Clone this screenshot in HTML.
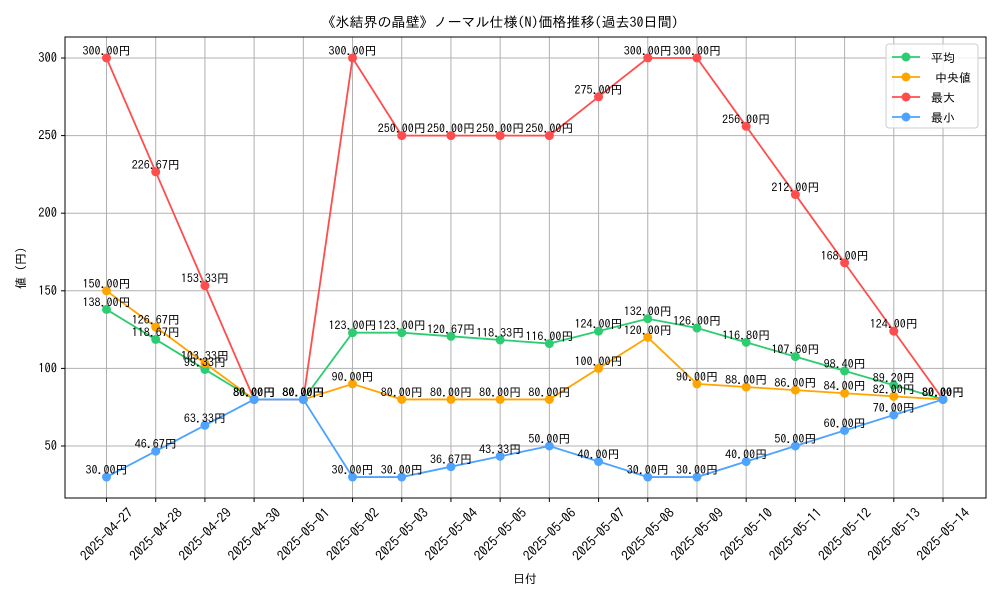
<!DOCTYPE html>
<html><head><meta charset="utf-8"><style>
body{margin:0;background:#fff}
svg{font-family:"IPAGothic","Liberation Sans","Noto Sans CJK JP",sans-serif}
</style></head><body>
<svg id="c" width="1000" height="600" viewBox="0 0 1000 600" xmlns="http://www.w3.org/2000/svg">
<rect width="1000" height="600" fill="#fff"/>
<text x="500" y="27" text-anchor="middle" font-size="14">《氷結界の晶壁》ノーマル仕様(N)価格推移(過去30日間)</text>
<g id="grid"></g><g id="series"></g><g id="labels"></g>
<rect x="65" y="37" width="921" height="461" fill="none" stroke="#000" stroke-width="1"/>
<text x="525" y="583" text-anchor="middle" font-size="12">日付</text>
<text transform="translate(25,268) rotate(-90)" text-anchor="middle" font-size="12">値 (円)</text>
<g id="legend">
<rect x="886" y="44" width="92" height="84" rx="3" fill="#fff" fill-opacity="0.8" stroke="#ccc"/>
</g>
</svg>
<script>
const dates=["2025-04-27","2025-04-28","2025-04-29","2025-04-30","2025-05-01","2025-05-02","2025-05-03","2025-05-04","2025-05-05","2025-05-06","2025-05-07","2025-05-08","2025-05-09","2025-05-10","2025-05-11","2025-05-12","2025-05-13","2025-05-14"];
const avgVals=[138,118.67,99.33,80,80,123,123,120.67,118.33,116,124,132,126,116.8,107.6,98.4,89.2,80];
const medVals=[150,126.67,103.33,80,80,90,80,80,80,80,100,120,90,88,86,84,82,80];
const maxVals=[300,226.67,153.33,80,80,300,250,250,250,250,275,300,300,256,212,168,124,80];
const minVals=[30,46.67,63.33,80,80,30,30,36.67,43.33,50,40,30,30,40,50,60,70,80];
const yTicks=[50,100,150,200,250,300];
const seriesNames=["平均","中央値","最大","最小"];
const NS="http://www.w3.org/2000/svg";
function xs(i){return 106.5+i*(943-106.5)/17;}
function ys(v){return 58+(300-v)*(446-58)/250;}
function mk(t,a,p){const e=document.createElementNS(NS,t);for(const k in a)e.setAttribute(k,a[k]);if(p)p.appendChild(e);return e;}
const grid=document.getElementById('grid');
dates.forEach((d,i)=>{const x=xs(i);
 const g=mk('line',{x1:x,x2:x,y1:37,y2:498,stroke:'#b0b0b0','stroke-width':1},grid);
 
 
 mk('line',{x1:x,x2:x,y1:498,y2:502,stroke:'#000'},grid);
 const cy=534;
 const t=mk('text',{x:x,y:cy+5,'font-size':13.5,'text-anchor':'middle',transform:`rotate(-45 ${x} ${cy})`},grid);
 t.textContent=d;
 
 
});
yTicks.forEach(v=>{const y=ys(v);
 const g=mk('line',{x1:65,x2:986,y1:y,y2:y,stroke:'#b0b0b0','stroke-width':1},grid);
 
 
 mk('line',{x1:61,x2:65,y1:y,y2:y,stroke:'#000'},grid);
 const t=mk('text',{x:57,y:y+4,'font-size':12.5,'text-anchor':'end'},grid);
 t.textContent=v;
 
 
});
const ser=[[avgVals,'#2ecc71','average'],[medVals,'#ffa500','median'],[maxVals,'#ff4d4d','max'],[minVals,'#4da3ff','min']];
const sg=document.getElementById('series'),lg=document.getElementById('labels');
ser.forEach(([vals,col,nm])=>{
 const pl=mk('polyline',{points:vals.map((v,i)=>xs(i)+','+ys(v)).join(' '),fill:'none',stroke:col,'stroke-width':1.8},sg);
 
 
 vals.forEach((v,i)=>{
  const c=mk('circle',{cx:xs(i),cy:ys(v),r:4.5,fill:col},sg);
  
  
  const t=mk('text',{x:xs(i),y:ys(v)-3,'font-size':12,'text-anchor':'middle'},lg);
  t.textContent=v.toFixed(2)+'円';
  
  
 });
});
const leg=document.getElementById('legend');
ser.forEach(([v,col,nm],k)=>{const y=57+k*20;
 const l=mk('line',{x1:892,x2:920,y1:y,y2:y,stroke:col,'stroke-width':1.8},leg);
 
 
 mk('circle',{cx:906,cy:y,r:4.5,fill:col},leg);
 const t=mk('text',{x:931+(k==1?4:0),y:y+5,'font-size':12},leg);
 t.textContent=seriesNames[k];
 
 
});
</script>
</body></html>
